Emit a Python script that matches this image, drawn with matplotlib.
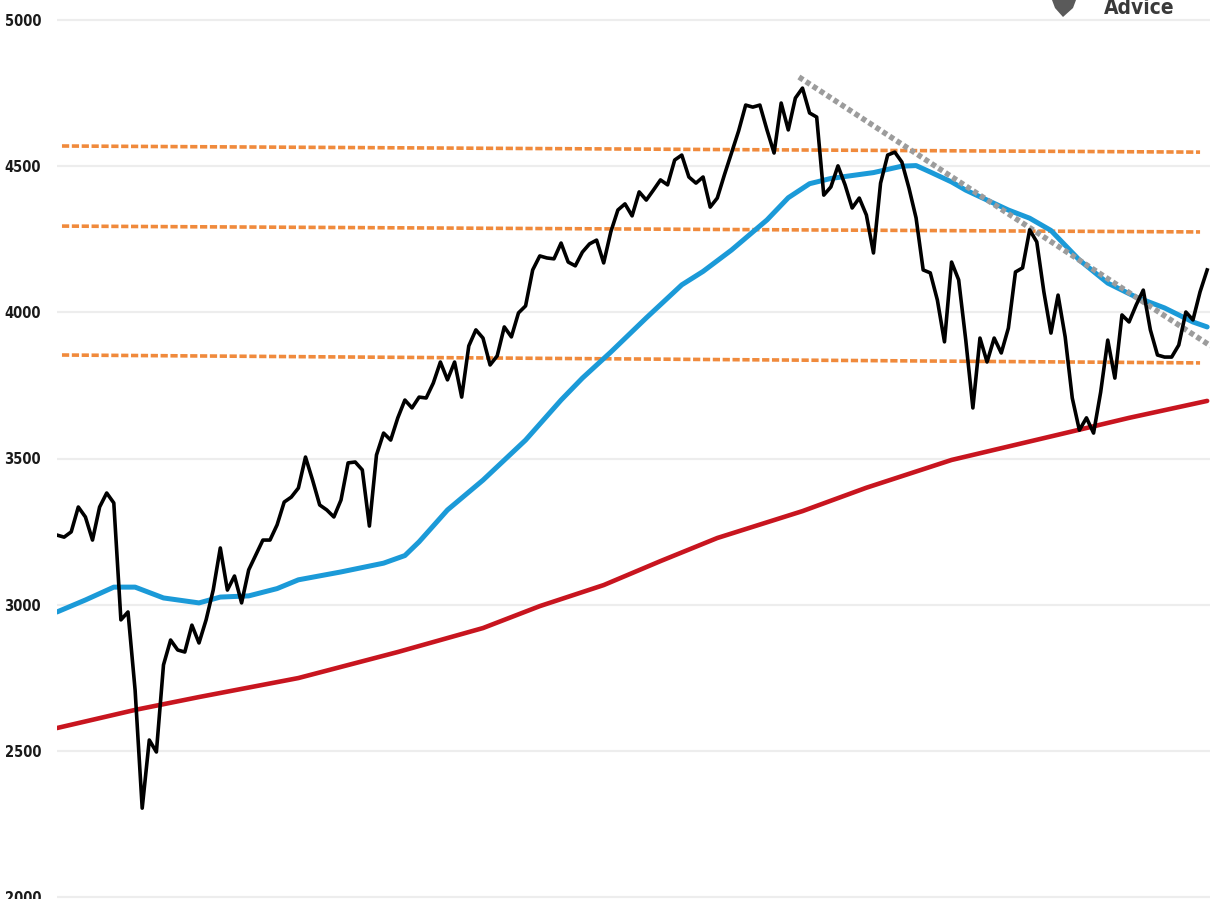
import numpy as np
import matplotlib
matplotlib.use("Agg")
import matplotlib.pyplot as plt
from matplotlib.patches import Polygon

# ---------------- data ----------------
price = [3238, 3231, 3249, 3334, 3300, 3221, 3334, 3382, 3348, 2948,
         2975, 2708, 2304, 2537, 2496, 2794, 2879, 2845, 2838, 2930,
         2869, 2948, 3050, 3194, 3050, 3098, 3006, 3119, 3170, 3221,
         3221, 3273, 3351, 3368, 3399, 3505, 3426, 3341, 3324, 3300,
         3358, 3485, 3488, 3461, 3269, 3512, 3587, 3563, 3639, 3700,
         3673, 3710, 3707, 3758, 3830, 3769, 3830, 3710, 3885, 3940,
         3912, 3820, 3851, 3950, 3916, 3998, 4022, 4145, 4193, 4186,
         4183, 4237, 4172, 4159, 4206, 4234, 4247, 4169, 4275, 4350,
         4371, 4330, 4412, 4384, 4418, 4453, 4436, 4521, 4538, 4463,
         4442, 4463, 4360, 4391, 4470, 4545, 4620, 4709, 4702, 4709,
         4624, 4545, 4716, 4624, 4733, 4767, 4682, 4668, 4401, 4429,
         4501, 4436, 4357, 4391, 4333, 4203, 4442, 4538, 4548, 4514,
         4425, 4323, 4145, 4135, 4042, 3899, 4172, 4111, 3905, 3673,
         3912, 3830, 3912, 3861, 3946, 4138, 4152, 4282, 4241, 4070,
         3929, 4059, 3916, 3707, 3597, 3639, 3587, 3727, 3905, 3775,
         3991, 3967, 4025, 4076, 3940, 3854, 3847, 3847, 3888, 4001,
         3974, 4070, 4145]

ma_short_weeks = [0, 4, 8, 11, 15, 20, 23, 27, 31, 34, 40, 46, 49, 51, 55, 60, 66, 71, 74, 78,
                  83, 88, 91, 95, 100, 103, 106, 109, 112, 115, 119, 121, 123, 126, 128, 134,
                  137, 140, 144, 148, 152, 156, 160, 162]
ma_short = [2975, 3016, 3060, 3060, 3023, 3006, 3026, 3030, 3055, 3085, 3112, 3142, 3168, 3215,
            3324, 3426, 3563, 3700, 3775, 3864, 3981, 4094, 4140, 4213, 4316, 4392, 4440, 4458,
            4468, 4478, 4500, 4502, 4480, 4446, 4418, 4350, 4322, 4280, 4179, 4100, 4052, 4015,
            3967, 3950]

ma_long_weeks = [0, 11, 20, 34, 48, 60, 68, 77, 85, 93, 105, 114, 126, 142, 151, 162]
ma_long = [2578, 2640, 2684, 2749, 2838, 2920, 2995, 3067, 3149, 3228, 3320, 3400, 3495, 3587,
           3639, 3697]

level_weeks = [0.7, 161.0]
level_top = [4569, 4548]
level_mid = [4295, 4275]
level_low = [3854, 3827]

trend_weeks = [104.5, 162.5]
trend_vals = [4805, 3885]

yticks = [2000, 2500, 3000, 3500, 4000, 4500, 5000]

# ---------------- figure ----------------
W, H = 1210, 899
fig = plt.figure(figsize=(W / 100, H / 100), dpi=100)
fig.patch.set_facecolor("white")

left_px = 57
ax = fig.add_axes([left_px / W, 0, 1 - left_px / W, 1])
ax.set_facecolor("white")

ppu = (897 - 20) / 3000.0
ax.set_ylim(2000 - 2 / ppu, 5000 + 20 / ppu)
ax.set_xlim(0, 162.4)

for s in ax.spines.values():
    s.set_visible(False)
ax.set_xticks([])
ax.set_yticks(yticks)
ax.set_yticklabels([str(t) for t in yticks], fontfamily="DejaVu Sans",
                   fontstretch="condensed", fontweight="semibold",
                   fontsize=10.5, color="#1a1a1a")
ax.tick_params(axis="y", length=0, pad=11.5)
ax.yaxis.grid(True, color="#ededed", linewidth=1.6, zorder=0)
ax.set_axisbelow(True)

# orange support/resistance levels
lw_o = 2.6
for lv in (level_top, level_mid, level_low):
    ax.plot(level_weeks, lv, color="#f08a3c", linewidth=lw_o,
            linestyle=(0, (5.2 / lw_o, 1.9 / lw_o)), zorder=2)

# moving averages
ax.plot(ma_long_weeks, ma_long, color="#c8151f", linewidth=3.3, zorder=3,
        solid_joinstyle="round", solid_capstyle="round")
ax.plot(ma_short_weeks, ma_short, color="#1b9ad8", linewidth=3.6, zorder=3,
        solid_joinstyle="round", solid_capstyle="round")

# downtrend line
lw_g = 4.0
ax.plot(trend_weeks, trend_vals, color="#9c9c9c", linewidth=lw_g,
        linestyle=(0, (3.6 / lw_g, 2.4 / lw_g)), zorder=4)

# price
weeks = np.arange(len(price))
ax.plot(weeks, price, color="#000000", linewidth=2.6, zorder=5,
        solid_joinstyle="round")

# partial logo at the top right
fig.text(1104 / W, 1 - 14 / H, "Advice", ha="left", va="baseline",
         fontsize=15, fontweight="bold", color="#3a3a3a",
         fontfamily="DejaVu Sans", fontstretch="condensed")
shield = Polygon([[1052 / W, 1.0], [1076 / W, 1.0], [1073 / W, 1 - 8 / H],
                  [1063 / W, 1 - 17 / H], [1055 / W, 1 - 8 / H]],
                 closed=True, transform=fig.transFigure, facecolor="#5a5a5a",
                 edgecolor="none")
fig.patches.append(shield)

fig.savefig("out.png", dpi=100, facecolor="white")
